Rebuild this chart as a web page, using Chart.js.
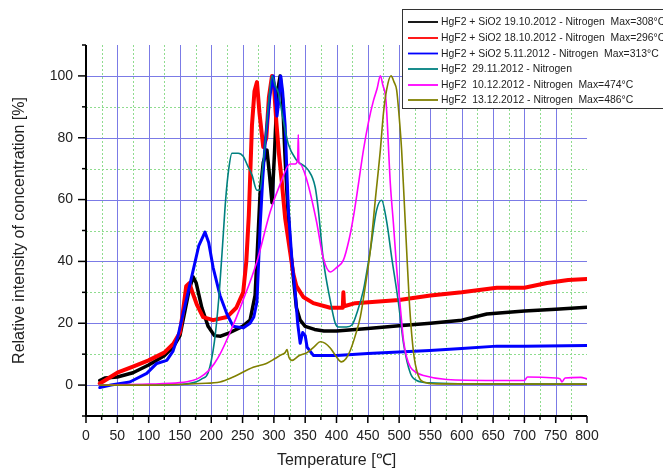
<!DOCTYPE html>
<html>
<head>
<meta charset="utf-8">
<script src="https://cdn.jsdelivr.net/npm/chart.js@4.4.1/dist/chart.umd.min.js"></script>
<style>
  html, body { margin: 0; padding: 0; background: #fff; }
  canvas { display: block; }
</style>
</head>
<body>
<canvas id="chart" width="663" height="470"></canvas>
<script>
// =======================
//  DATA
// =======================
const legendLabels = [
  "HgF2 + SiO2 19.10.2012 - Nitrogen  Max=308°C",
  "HgF2 + SiO2 18.10.2012 - Nitrogen  Max=296°C",
  "HgF2 + SiO2 5.11.2012 - Nitrogen  Max=313°C",
  "HgF2  29.11.2012 - Nitrogen",
  "HgF2  10.12.2012 - Nitrogen  Max=474°C",
  "HgF2  13.12.2012 - Nitrogen  Max=486°C"
];

const xTicks = [0, 50, 100, 150, 200, 250, 300, 350, 400, 450, 500, 550, 600, 650, 700, 750, 800];
const yTicks = [0, 20, 40, 60, 80, 100];

// black - 19.10.2012
const blackT = [22, 30, 50, 75, 100, 125, 140, 150, 158, 165, 171, 176, 185, 195, 205, 215, 230, 250, 262, 270, 274, 278, 283, 289, 293, 297, 301, 305, 310, 314, 318, 322, 326, 331, 336, 342, 350, 365, 380, 400, 450, 500, 550, 600, 640, 700, 750, 800];
const blackV = [1.5, 2.3, 2.6, 4, 6.5, 9.5, 12.5, 16, 24, 31, 35, 33, 25, 19, 16, 15.8, 17, 19, 21, 29, 45, 62, 72, 76, 68, 59, 75, 94, 100, 92, 73, 58, 45, 35, 25, 21, 19, 18, 17.5, 17.5, 18.3, 19.2, 20, 21, 23, 24, 24.5, 25.2];

// red - 18.10.2012
const redT = [22, 30, 50, 75, 100, 125, 140, 150, 155, 160, 165, 170, 177, 187, 203, 225, 240, 251, 256, 260, 265, 269, 273, 277, 283, 288, 292, 297, 300, 304, 308, 313, 318, 326, 331, 336, 347, 363, 390, 410, 411, 412, 430, 500, 550, 600, 656, 700, 736, 770, 800];
const redV = [0.5, 1.5, 4, 6, 8, 10.5, 13.5, 17, 24, 32, 33, 30, 26, 22, 21, 22, 25, 30, 40, 55, 84, 95, 98, 88, 77, 80, 93, 100, 97, 85, 75, 65, 54, 43, 36, 32, 28.5, 26.5, 25, 25, 30, 25.5, 26.5, 27.5, 29, 30, 31.5, 31.5, 33, 34, 34.3];

// blue - 5.11.2012
const blueT = [22, 40, 70, 97, 113, 129, 139, 147, 155, 163, 171, 180, 190, 196, 203, 214, 225, 235, 251, 262, 268, 273, 278, 282, 286, 290, 294, 299, 302, 305, 308, 311, 314, 318, 323, 329, 334, 338, 342, 346, 350, 353, 363, 400, 450, 549, 600, 656, 700, 800];
const blueV = [-0.8, 0, 1, 3.8, 7, 8, 11, 16, 23, 30, 37, 45, 49.5, 46, 38, 29, 23, 19, 18.5, 20, 22, 27, 51, 66, 78, 86, 94, 100, 95, 87, 92, 100, 95, 84, 57, 40, 30, 20, 13.5, 17, 16, 12.3, 9.6, 9.6, 10.2, 11.2, 11.8, 12.6, 12.6, 12.8];

// teal - 29.11.2012
const tealT = [22, 100, 150, 175, 185, 195, 205, 212, 218, 223, 228, 233, 243, 251, 258, 265, 273, 278, 282, 286, 291, 297, 302, 307, 315, 323, 336, 355, 366, 371, 379, 390, 398, 403, 416, 425, 432, 443, 454, 464, 472, 480, 488, 499, 507, 518, 528, 550, 600, 800];
const tealV = [0, 0, 0.2, 1, 2, 4, 14, 28, 45, 60, 70, 75, 75, 74, 71, 68, 63, 63, 70, 78, 90, 100, 97, 94.6, 85.7, 78, 72.8, 69.5, 64, 56.6, 40.4, 27.4, 20, 18.8, 18.8, 19.5, 23, 30.7, 43.6, 56.6, 59.8, 53, 41.5, 26.5, 13.5, 3.8, 1.5, 0.7, 0.4, 0.3];

// magenta - 10.12.2012
const magT = [22, 100, 150, 170, 182, 195, 205, 214, 230, 250, 273, 294, 310, 326, 334, 338, 339, 340, 342, 353, 368, 379, 390, 400, 411, 420, 427, 435, 443, 451, 459, 465, 470, 474, 479, 486, 491, 496, 502, 507, 512, 518, 528, 539, 576, 650, 700, 705, 750, 757, 760, 765, 790, 800];
const magV = [0, 0.3, 0.8, 1.5, 2.5, 4.5, 7, 10, 17, 27, 40, 56, 65, 71.5, 71.5, 73, 81, 72, 71.5, 66, 53, 41, 36.6, 38, 40.4, 47, 54.4, 65, 76, 85, 92, 96, 100, 97, 92, 65, 52, 38, 25, 14.5, 9, 5.8, 4, 3.1, 1.8, 1.5, 1.5, 2.6, 2.3, 2, 1, 2.3, 2.5, 2];

// olive - 13.12.2012
const oliveT = [22, 100, 150, 182, 214, 235, 267, 288, 302, 310, 318, 321, 324, 329, 340, 353, 365, 374, 382, 390, 397, 408, 415, 422, 430, 438, 446, 454, 462, 470, 475, 480, 487, 492, 496, 500, 504, 508, 512, 516, 520, 524, 528, 533, 539, 560, 800];
const oliveV = [0, 0, 0.2, 0.5, 1, 2.6, 5.8, 7, 8.6, 9.6, 10.5, 11.5, 9, 8, 9.5, 10.5, 12.5, 14, 13.5, 12, 10, 7.5, 8.5, 11.2, 16, 22, 32, 43.6, 60, 76, 88, 95.5, 100, 98, 95.5, 87, 76, 60, 43.6, 28, 16.6, 9, 4.8, 2, 1, 0.4, 0.3];

const colors = ["#000000", "#ff0000", "#0000ff", "#008080", "#ff00ff", "#808000"];
const widths = [3.5, 4, 3, 1.6, 1.6, 1.6];

// =======================
//  HELPERS
// =======================
function pts(xs, ys) {
  return xs.map((x, i) => ({ x: x, y: ys[i] }));
}

const series = [
  pts(blackT, blackV),
  pts(redT, redV),
  pts(blueT, blueV),
  pts(tealT, tealV),
  pts(magT, magV),
  pts(oliveT, oliveV)
];

const FONT = "'Liberation Sans', Arial, sans-serif";

// =======================
//  GRID + AXES PLUGIN
// =======================
const gridPlugin = {
  id: "gridPlugin",
  beforeDatasetsDraw(chart) {
    const ctx = chart.ctx;
    const a = chart.chartArea;
    const xs = chart.scales.x;
    const ys = chart.scales.y;
    ctx.save();

    // minor dashed green
    ctx.strokeStyle = "#8fdc8f";
    ctx.lineWidth = 1;
    ctx.setLineDash([2, 2]);
    for (let t = 25; t < 800; t += 50) {
      const px = Math.round(xs.getPixelForValue(t)) + 0.5;
      ctx.beginPath(); ctx.moveTo(px, a.top); ctx.lineTo(px, a.bottom); ctx.stroke();
    }
    for (let v = 10; v < 110; v += 20) {
      const py = Math.round(ys.getPixelForValue(v)) + 0.5;
      ctx.beginPath(); ctx.moveTo(a.left, py); ctx.lineTo(a.right, py); ctx.stroke();
    }

    // major blue
    ctx.setLineDash([]);
    ctx.strokeStyle = "#7b7be6";
    xTicks.forEach(t => {
      if (t === 0 || t === 800) return;
      const px = Math.round(xs.getPixelForValue(t)) + 0.5;
      ctx.beginPath(); ctx.moveTo(px, a.top); ctx.lineTo(px, a.bottom); ctx.stroke();
    });
    yTicks.forEach(v => {
      const py = Math.round(ys.getPixelForValue(v)) + 0.5;
      ctx.beginPath(); ctx.moveTo(a.left, py); ctx.lineTo(a.right, py); ctx.stroke();
    });
    ctx.restore();
  },
  afterDatasetsDraw(chart) {
    const ctx = chart.ctx;
    const a = chart.chartArea;
    const xs = chart.scales.x;
    const ys = chart.scales.y;
    ctx.save();
    ctx.strokeStyle = "#000";
    ctx.lineWidth = 2;
    ctx.beginPath();
    ctx.moveTo(a.left, a.top);
    ctx.lineTo(a.left, a.bottom);
    ctx.lineTo(a.right, a.bottom);
    ctx.stroke();

    // x ticks
    ctx.lineWidth = 1.5;
    for (let t = 0; t <= 800; t += 25) {
      const px = xs.getPixelForValue(t);
      const len = t % 50 === 0 ? 7 : 4;
      ctx.beginPath(); ctx.moveTo(px, a.bottom); ctx.lineTo(px, a.bottom + len); ctx.stroke();
    }
    // y ticks
    for (let v = -10; v <= 110; v += 10) {
      const py = ys.getPixelForValue(v);
      const len = v % 20 === 0 ? 8 : 4;
      ctx.beginPath(); ctx.moveTo(a.left, py); ctx.lineTo(a.left - len, py); ctx.stroke();
    }
    ctx.restore();
  },
  afterDraw(chart) {
    // legend box, overlapping the plot
    const ctx = chart.ctx;
    ctx.save();
    ctx.fillStyle = "#fff";
    ctx.fillRect(402, 9, 270, 99);
    ctx.strokeStyle = "#333";
    ctx.lineWidth = 1;
    ctx.strokeRect(402.5, 9.5, 270, 99);
    const rows = [22, 38, 53.5, 69, 85, 100];
    ctx.font = "10.4px " + FONT;
    ctx.textBaseline = "middle";
    chart.data.datasets.forEach((ds, i) => {
      ctx.strokeStyle = ds.borderColor;
      ctx.lineWidth = 1.8;
      ctx.beginPath(); ctx.moveTo(408, rows[i]); ctx.lineTo(438, rows[i]); ctx.stroke();
      ctx.fillStyle = "#222";
      ctx.fillText(ds.label, 441, rows[i] + 0.5);
    });
    ctx.restore();
  }
};

// =======================
//  CHART
// =======================
const chart = new Chart(document.getElementById("chart"), {
  type: "line",
  data: {
    datasets: series.map((d, i) => ({
      label: legendLabels[i],
      data: d,
      borderColor: colors[i],
      backgroundColor: colors[i],
      borderWidth: widths[i],
      borderJoinStyle: "round",
      borderCapStyle: "round",
      pointRadius: 0,
      tension: 0,
      cubicInterpolationMode: i >= 3 ? "monotone" : "default",
      order: 5 - i
    }))
  },
  options: {
    responsive: false,
    animation: false,
    devicePixelRatio: 1,
    layout: { padding: { left: 10, top: 45, right: 76, bottom: 0 } },
    plugins: { legend: { display: false }, tooltip: { enabled: false } },
    scales: {
      x: {
        type: "linear",
        min: 0,
        max: 800,
        grid: { display: false },
        border: { display: false },
        afterBuildTicks: s => { s.ticks = xTicks.map(v => ({ value: v })); },
        afterFit: s => { s.height = 54; },
        ticks: { autoSkip: false, maxRotation: 0, padding: 4, color: "#222", font: { family: FONT, size: 14 } },
        title: { display: true, text: "Temperature [℃]", color: "#222", font: { family: FONT, size: 16 }, padding: 0 }
      },
      y: {
        type: "linear",
        min: -10,
        max: 110,
        grid: { display: false },
        border: { display: false },
        afterBuildTicks: s => { s.ticks = yTicks.map(v => ({ value: v })); },
        afterFit: s => { s.width = 76; },
        ticks: { padding: 5, color: "#222", font: { family: FONT, size: 14 } },
        title: { display: true, text: "Relative intensity of concentration [%]", color: "#222", font: { family: FONT, size: 16 }, padding: 0 }
      }
    }
  },
  plugins: [gridPlugin]
});
</script>
</body>
</html>
